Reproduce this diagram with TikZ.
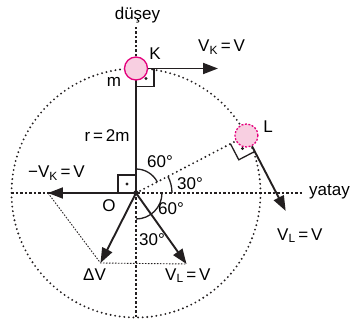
\documentclass[tikz,border=0pt]{standalone}
\usepackage{fontspec}
\setmainfont{Liberation Sans}
\usetikzlibrary{arrows.meta}

\definecolor{ballfill}{RGB}{248,207,225}
\definecolor{balledge}{RGB}{228,0,124}
\definecolor{ink}{RGB}{35,31,32}

\begin{document}
\begin{tikzpicture}[
  x=1pt, y=1pt,
  font=\fontsize{17}{20}\selectfont,
  lbl/.style={inner sep=0pt, anchor=base},
  vec/.style={-{Triangle[length=15pt,width=11pt]}, line width=1.9pt, draw=ink},
  rod/.style={line width=1.9pt, draw=ink},
  guide/.style={draw=ink, line width=1.1pt, dash pattern=on 2.5pt off 2pt},
  orbit/.style={draw=ink, line width=2.1pt, line cap=round, dash pattern=on 0pt off 4.6pt},
  helper/.style={draw=ink, line width=0.9pt, dash pattern=on 1.5pt off 1.5pt},
  corner/.style={draw=ink, line width=1.3pt},
  angarc/.style={draw=ink, line width=1.3pt},
  ball/.style={circle, minimum size=23pt, inner sep=0pt, fill=ballfill, draw=balledge, line width=1.3pt}
]
\useasboundingbox (-136,-128) rectangle (217,193);

\coordinate (O) at (0,0);
\coordinate (top) at (0,166);
\coordinate (west) at (-124.5,0);
\coordinate (east) at (167,0);
\coordinate (south) at (0,-124.5);
\coordinate (Kpos) at (0,124.5);
\coordinate (Lpos) at (27.5:124.5);
\coordinate (VKtip) at (82,124.5);
\coordinate (VLtip) at ([shift={(-62.5:85)}]Lpos);
\coordinate (mVKtip) at (-88,0);
\coordinate (VLOtip) at (50.5,-71);
\coordinate (dVtip) at (-35.5,-70);

% guide lines
\draw[orbit] (O) circle (124.5);
\draw[guide] (west) -- (east);
\draw[guide] (O) -- (south);
\draw[helper] (mVKtip) -- (dVtip) -- (VLOtip);

% right angles and angles
\draw[corner] (Kpos) rectangle ++(18,-18);
\fill[ink] ([shift={(10,-10)}]Kpos) circle (1.6);
\draw[corner] (O) rectangle ++(-18,18);
\fill[ink] (-9,9) circle (1.6);
\draw[corner] ([shift={(207.5:18)}]Lpos) -- ++(-62.5:18) -- ++(27.5:18);
\fill[ink] ([shift={(-4,-13)}]Lpos) circle (1.6);
\draw[angarc] (0,24) arc[start angle=90, end angle=27.5, radius=24];
\draw[angarc] (36,0) arc[start angle=0, end angle=27.5, radius=36];
\draw[angarc] (26,0) arc[start angle=0, end angle=-90, radius=26];

\node[ball] (K) at (Kpos) {};
\node[ball, dash pattern=on 2pt off 1.5pt] (L) at (Lpos) {};

\draw[guide] (K) -- (top);
\draw[orbit] (O) -- (L);
\draw[rod] (O) -- (K);
\draw[vec] (K) -- (VKtip);
\draw[vec] (L) -- (VLtip);
\draw[vec] (O) -- (mVKtip);
\draw[vec] (O) -- (VLOtip);
\draw[vec] (O) -- (dVtip);
\fill[ink] (O) circle (2.7);

\node[lbl] (dusey) at (1.5,173.5) {düşey};
\node[lbl] (Klbl) at (19,133) {K};
\node[lbl, anchor=base west] (VKlbl) at (62,141.3) {V\textsubscript{K}\,=\,V};
\node[lbl] (mlbl) at (-22,106) {m};
\node[lbl] (rlbl) at (-29,51) {r\,=\,2m};
\node[lbl] (Llbl) at (132,60) {L};
\node[lbl] (uppersixty) at (24,25) {60°};
\node[lbl] (rightthirty) at (54,3) {30°};
\node[lbl] (lowersixty) at (35,-21) {60°};
\node[lbl] (lowerthirty) at (16,-52) {30°};
\node[lbl] (Olbl) at (-27,-19) {O};
\node[lbl, anchor=base west] (mVKlbl) at (-108,15) {−V\textsubscript{K}\,=\,V};
\node[lbl, anchor=base west] (yatay) at (173,-2) {yatay};
\node[lbl, anchor=base west] (VLlbl) at (141,-47) {V\textsubscript{L}\,=\,V};
\node[lbl, anchor=base west] (dVlbl) at (-53,-87) {ΔV};
\node[lbl, anchor=base west] (VLOlbl) at (29,-87) {V\textsubscript{L}\,=\,V};
\end{tikzpicture}
\end{document}
